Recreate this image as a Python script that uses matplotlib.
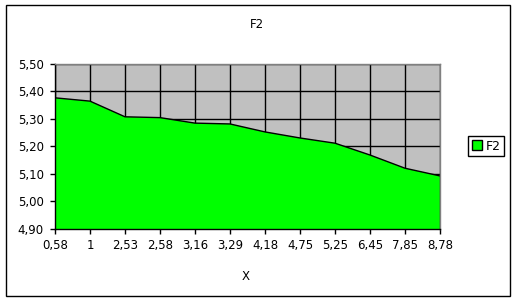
import matplotlib

matplotlib.use("Agg")
import matplotlib.pyplot as plt  # noqa: E402
from matplotlib.patches import Patch, Rectangle  # noqa: E402
from matplotlib.ticker import FuncFormatter, MultipleLocator  # noqa: E402
import numpy as np  # noqa: E402

# data
x_labels = ["0,58", "1", "2,53", "2,58", "3,16", "3,29", "4,18", "4,75",
            "5,25", "6,45", "7,85", "8,78"]
f2_values = [5.377, 5.365, 5.308, 5.305, 5.285, 5.282, 5.253, 5.231,
             5.212, 5.169, 5.121, 5.093]
series_name = "F2"

W, H = 516, 302
FS = 8.5
plt.rcParams["font.family"] = ["DejaVu Sans"]
plt.rcParams["font.size"] = FS

fig = plt.figure(figsize=(W / 100, H / 100), dpi=100)
fig.patch.set_facecolor("white")

# chart border
fig.patches.append(Rectangle((5.5 / W, 6 / H), 504 / W, 291 / H, transform=fig.transFigure,
                             fill=False, edgecolor="black", linewidth=1))

ax = fig.add_axes([55 / W, 1 - 229 / H, 385 / W, 165 / H])
ax.set_facecolor("#C0C0C0")

xs = np.arange(len(f2_values))
ax.fill_between(xs, 4.9, f2_values, facecolor="#00FF00", edgecolor="none", zorder=3)
ax.plot(xs, f2_values, color="black", linewidth=1, zorder=4)
ax.plot([xs[-1], xs[-1]], [4.9, f2_values[-1]], color="black", linewidth=1, zorder=4)

ax.set_xlim(0, len(f2_values) - 1)
ax.set_ylim(4.9, 5.5)
ax.set_xticks(xs)
ax.set_xticklabels(x_labels)
ax.yaxis.set_major_locator(MultipleLocator(0.1))
ax.yaxis.set_major_formatter(FuncFormatter(lambda v, _: f"{v:.2f}".replace(".", ",")))

ax.grid(True, color="black", linewidth=1, zorder=1)
ax.set_axisbelow(True)
ax.tick_params(direction="out", length=3.5, width=1, color="black", labelsize=FS)
ax.tick_params(axis="y", pad=4.5)
ax.tick_params(axis="x", pad=4)

ax.spines["left"].set_color("black")
ax.spines["bottom"].set_color("black")
ax.spines["top"].set_color("#808080")
ax.spines["right"].set_color("#808080")
for sp in ax.spines.values():
    sp.set_linewidth(1)
    sp.set_zorder(5)

fig.text(257 / W, 1 - 24 / H, "F2", ha="center", va="center", fontsize=FS)
fig.text(246 / W, 1 - 277 / H, "X", ha="center", va="center", fontsize=FS)

leg = fig.legend(handles=[Patch(facecolor="#00FF00", edgecolor="black", label=series_name)],
                 loc="center", bbox_to_anchor=(486 / W, 1 - 146 / H), fontsize=FS + 0.5,
                 fancybox=False, framealpha=1, edgecolor="black", handlelength=0.8,
                 handleheight=0.8, handletextpad=0.3, borderpad=0.3, borderaxespad=0)
leg.get_frame().set_linewidth(1)

fig.savefig("out.png", dpi=100)
